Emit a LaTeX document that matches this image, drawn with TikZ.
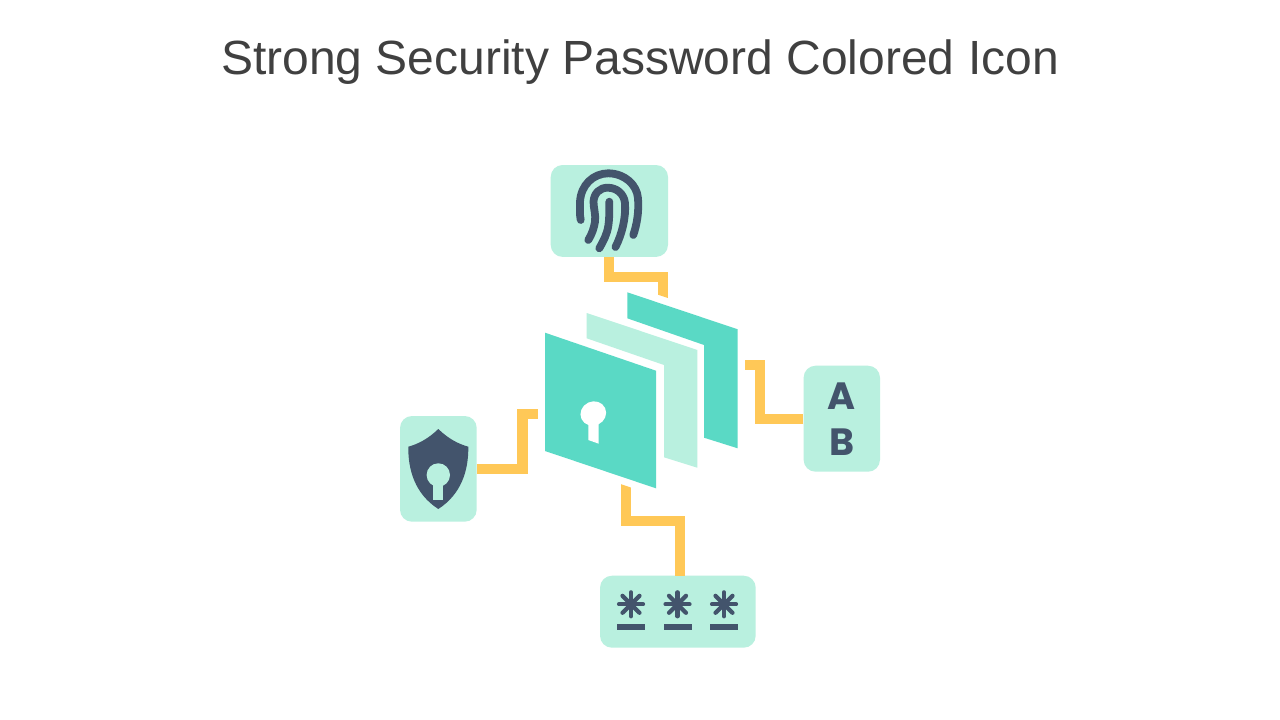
\documentclass[tikz,border=0pt]{standalone}
\usepackage{fontspec}
\setmainfont{Liberation Sans}
\newfontfamily\abfont{Poppins}
\definecolor{mint}{HTML}{B9F0DF}
\definecolor{teal}{HTML}{5AD9C5}
\definecolor{ink}{HTML}{43546C}
\definecolor{amber}{HTML}{FFC857}
\definecolor{titlegrey}{HTML}{404040}
\tikzset{
  x=1pt,y=-1pt,
  conn/.style={draw=amber,line width=10.4pt,miter limit=10,line cap=butt,line join=miter},
  print/.style={draw=ink,line width=7.8pt,line cap=round,line join=round},
  spoke/.style={draw=ink,line width=4.2pt,line cap=round},
  letter/.style={text=ink,inner sep=0pt,font=\abfont\bfseries\fontsize{38}{38}\selectfont},
}
\newcommand{\starmark}[2]{%
  \draw[spoke] (#1-12,#2)--(#1+12,#2);
  \draw[spoke] (#1,#2-12)--(#1,#2+12);
  \draw[spoke] (#1-8.5,#2-8.5)--(#1+8.5,#2+8.5);
  \draw[spoke] (#1-8.5,#2+8.5)--(#1+8.5,#2-8.5);
  \fill[ink] (#1-14,#2+19.7) rectangle (#1+14,#2+25.7);
}
\begin{document}
\begin{tikzpicture}
\useasboundingbox (0,0) rectangle (1280,720);
\fill[white] (0,0) rectangle (1280,720);
\node[text=titlegrey,font=\fontsize{48}{48}\selectfont,inner sep=0pt] (title) at (640,62) {Strong Security Password Colored Icon};
% panels
\fill[teal] (627.3,292.3)--(737.7,329.3)--(737.7,448.3)--(704,437.7)--(704,345)--(627.3,318.3)--cycle;
\fill[mint] (586.7,313)--(697.3,350)--(697.3,467.7)--(664,457.3)--(664,365)--(586.7,338.3)--cycle;
\fill[teal] (545,332.7)--(656,370.7)--(656,488.3)--(545,451)--cycle;
\fill[white,rotate around={25:(593.3,413.5)}] (593.3,413.5) ellipse [x radius=13,y radius=12];
\fill[white] (588.3,422)--(588.3,440)--(598.7,443.7)--(598.7,422)--cycle;
\coordinate (stackleft) at (538.4,414);
\coordinate (stackright) at (745,365);
\coordinate (stacktop) at (663,300);
\coordinate (stackbottom) at (626,482);
% boxes
\path[fill=mint,rounded corners=12pt] (550.7,165) rectangle (668,256.9);
\node[inner sep=0pt,minimum width=117.3pt,minimum height=91.9pt] (fingerbox) at (609.35,210.95) {};
\path[fill=mint,rounded corners=12pt] (400,416) rectangle (476.7,521.7);
\node[inner sep=0pt,minimum width=76.7pt,minimum height=105.7pt] (shieldbox) at (438.35,468.85) {};
\path[fill=mint,rounded corners=12pt] (600,575.7) rectangle (755.7,647.7);
\node[inner sep=0pt,minimum width=155.7pt,minimum height=72pt] (starbox) at (677.85,611.7) {};
\path[fill=mint,rounded corners=12pt] (803.6,365.7) rectangle (880,471.7);
\node[inner sep=0pt,minimum width=76.4pt,minimum height=106pt] (abbox) at (841.8,418.7) {};
% connectors
\begin{scope}
  \clip (590,200)--(680,200)--(680,302)--(650,292)--(650,290)--(590,290)--cycle;
  \draw[conn] (fingerbox.south -| 609,0) |- (663,277) -- (stacktop);
\end{scope}
\draw[conn] (shieldbox.east |- 0,468.7) -| (522.5,414) -- (stackleft);
\draw[conn] (abbox.west |- 0,419) -| (760,365) -- (stackright);
\begin{scope}
  \clip (610,480.5)--(640,490.5)--(700,490.5)--(700,590)--(610,590)--cycle;
  \draw[conn] (stackbottom) |- (680,521) -- (starbox.north -| 680,0);
\end{scope}
% shield
\fill[ink] (438.3,429) .. controls (428,439) and (418,444) .. (408.3,446.7)
  .. controls (408,470) and (415,494) .. (438.3,509)
  .. controls (461.6,494) and (468.6,470) .. (468.3,446.7)
  .. controls (458.6,444) and (448.6,439) .. cycle;
\fill[mint] (438.3,475) circle [radius=11.7];
\fill[mint] (433.3,480) rectangle (443.3,499.5);
% fingerprint
\draw[print] (580.7,220) .. controls (579.5,214) and (580,208) .. (580,201.7) .. controls (581,185) and (593,173.5) .. (608.3,173.3) .. controls (625,173.5) and (637,185) .. (638,198.3) .. controls (639,212) and (637,224) .. (633.3,235);
\draw[print] (588.3,240) .. controls (592,234) and (594,228) .. (595,221.7) .. controls (596,215) and (593.5,208) .. (593.5,201.7) .. controls (594,193) and (600,187.7) .. (607.5,187.7) .. controls (617,187.7) and (624,194) .. (625,203) .. controls (626,218) and (622,234) .. (615.5,247);
\draw[print] (599.3,248.3) .. controls (604,240) and (607,234) .. (608.3,226) .. controls (609.5,218) and (609.3,210) .. (609.3,201.7);
% stars
\starmark{631}{604.3}
\starmark{677.5}{604.3}
\starmark{724}{604.3}
% letters
\node[letter] (la) at (841.7,396) {A};
\node[letter] (lb) at (841.7,442) {B};
\end{tikzpicture}
\end{document}
